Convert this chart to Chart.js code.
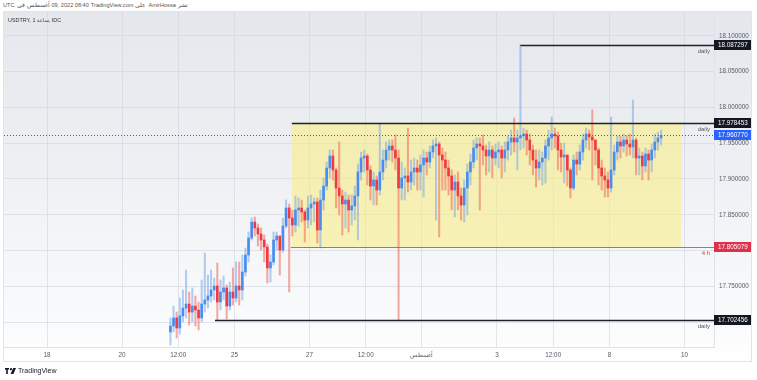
<!DOCTYPE html>
<html><head><meta charset="utf-8">
<script src="https://cdn.jsdelivr.net/npm/chart.js@4/dist/chart.umd.min.js"></script>
<style>
html,body{margin:0;padding:0;background:#fff;width:757px;height:380px;overflow:hidden;font-family:"Liberation Sans","Noto Sans",sans-serif;}
#hdr{position:absolute;left:3px;top:1px;font-size:5.6px;color:#555;white-space:nowrap;line-height:9px;}
#hdr span{display:inline-block;margin-right:2px}
#pane{position:absolute;left:4px;top:12px;width:748px;height:350px;background:linear-gradient(to bottom,#e4e7ec 0%,#eef0f3 45%,#fafbfc 90%,#ffffff 100%);}
#frame{position:absolute;left:3px;top:11px;width:749px;height:351px;border:1px solid #e0e3eb;box-sizing:border-box;pointer-events:none}
#c{position:absolute;left:0;top:0}
#sym{position:absolute;left:8px;top:16px;font-size:5.4px;color:#333;white-space:nowrap;line-height:9px}
#sym span{display:inline-block}
#foot{position:absolute;left:5px;top:366px;font-size:7px;color:#131722;white-space:nowrap;line-height:10px}
#foot svg{vertical-align:middle;margin-right:2px}
</style></head>
<body>
<div id="hdr"><span>UTC</span><span>في</span><span>أغسطس</span><span>09, 2022 08:40</span><span>TradingView.com</span><span>على</span><span>AmirHossa</span><span>نشر</span></div>
<div id="pane"><canvas id="c" width="748" height="350"></canvas></div>
<div id="frame"></div>
<div id="sym"><span>USDTRY,&nbsp;</span><span>1 ساعة</span><span>,&nbsp;IDC</span></div>
<div id="foot"><svg width="11" height="6" viewBox="0 0 11 6"><rect x="0" y="0" width="4" height="1.6" fill="#131722"/><rect x="1.2" y="0" width="1.6" height="6" fill="#131722"/><circle cx="6" cy="1.2" r="1.1" fill="#131722"/><polygon points="8.2,0 11,0 8.4,6 5.6,6" fill="#131722"/></svg>TradingView</div>
<script>
// ---- data: USDTRY 2-hour candles, 21 Jul 2022 07:00 -> 9 Aug 2022 ----
const startDay = 3 + 7/24;      // trading-day index of first candle (Mon 18 Jul = 0, weekends removed)
const stepDay = 2/24;           // 2 hours per candle

const opens = [
17.6863,17.6947,17.7059,17.6919,17.7087,17.7198,17.7254,17.7142,17.7226,17.7170,
17.7059,17.7254,17.7310,17.7366,17.7450,17.7506,17.7282,17.7422,17.7478,17.7226,
17.7422,17.7338,17.7506,17.7450,17.7701,17.7939,17.8176,17.8399,17.8316,17.8232,
17.8148,17.8050,17.7757,17.7841,17.8148,17.8204,17.8008,17.8344,17.8595,17.8455,
17.8358,17.8567,17.8595,17.8539,17.8427,17.8595,17.8651,17.8679,17.8288,17.8707,
17.8902,17.9154,17.9321,17.9126,17.8874,17.8763,17.8651,17.8707,17.8567,17.8623,
17.8763,17.9098,17.9293,17.9321,17.9126,17.8902,17.8986,17.8846,17.9098,17.9265,
17.9405,17.9461,17.9405,17.9293,17.8874,17.9014,17.9042,17.8958,17.9098,17.9154,
17.9098,17.9196,17.9293,17.9237,17.9377,17.9461,17.9489,17.9335,17.9265,17.9154,
17.9042,17.8846,17.8958,17.8763,17.8637,17.8874,17.9098,17.9237,17.9433,17.9489,
17.9461,17.9405,17.9321,17.9405,17.9293,17.9377,17.9405,17.9293,17.9405,17.9517,
17.9573,17.9517,17.9573,17.9601,17.9628,17.9545,17.9405,17.9265,17.9154,17.9237,
17.9293,17.9461,17.9573,17.9628,17.9601,17.9405,17.9307,17.9335,17.9126,17.8874,
17.9265,17.9209,17.9377,17.9545,17.9628,17.9587,17.9545,17.9405,17.9154,17.9042,
17.8986,17.8874,17.9126,17.9377,17.9517,17.9461,17.9545,17.9489,17.9447,17.9545,
17.9293,17.9321,17.9182,17.9349,17.9265,17.9405,17.9517,17.9573];
const highs = [
17.7059,17.7226,17.7142,17.7338,17.7450,17.7729,17.7422,17.7478,17.7366,17.7282,
17.7589,17.7966,17.7659,17.7729,17.7617,17.7827,17.7589,17.7645,17.7520,17.7561,
17.7757,17.7841,17.7841,17.7939,17.8036,17.8260,17.8455,17.8469,17.8372,17.8316,
17.8218,17.8092,17.7939,17.8260,17.8260,17.8204,17.8455,17.8707,17.8651,17.8567,
17.8763,17.8735,17.8707,17.8567,17.8763,17.8777,17.8735,17.8735,17.8846,17.9014,
17.9237,17.9405,17.9405,17.9154,17.9517,17.8846,17.8818,17.8777,17.8777,17.8902,
17.9209,17.9377,17.9405,17.9349,17.9182,17.9098,17.9042,17.9768,17.9405,17.9517,
17.9545,17.9545,17.9615,17.9405,17.9237,17.9154,17.9712,17.9265,17.9293,17.9265,
17.9335,17.9405,17.9377,17.9461,17.9545,17.9573,17.9517,17.9433,17.9377,17.9265,
17.9126,17.9056,17.9098,17.8874,17.8986,17.9209,17.9349,17.9545,17.9573,17.9573,
17.9615,17.9475,17.9517,17.9461,17.9489,17.9517,17.9461,17.9517,17.9601,17.9684,
17.9852,17.9684,18.0873,17.9712,17.9684,17.9628,17.9475,17.9405,17.9405,17.9377,
17.9545,17.9684,17.9866,17.9712,17.9656,17.9503,17.9503,17.9335,17.9154,17.9335,
17.9377,17.9475,17.9628,17.9712,17.9684,17.9964,17.9545,17.9433,17.9265,17.9154,
17.9098,17.9866,17.9475,17.9601,17.9601,17.9628,17.9601,17.9628,18.0103,17.9573,
17.9433,17.9377,17.9433,17.9405,17.9489,17.9628,17.9656,17.9684];
const lows = [
17.6682,17.6863,17.6779,17.6835,17.7003,17.7059,17.6961,17.7003,17.6947,17.6891,
17.7003,17.7142,17.7198,17.7282,17.7310,17.7025,17.7170,17.7310,17.7045,17.7170,
17.7240,17.7282,17.7240,17.7310,17.7645,17.7841,17.8148,17.8204,17.8064,17.8008,
17.7841,17.7547,17.7561,17.7799,17.8008,17.7659,17.7980,17.8316,17.7422,17.8204,
17.8260,17.8344,17.8399,17.8120,17.8316,17.8358,17.8399,17.8106,17.8036,17.8567,
17.8846,17.9014,17.8986,17.8595,17.8497,17.8218,17.8316,17.8260,17.8358,17.8427,
17.8148,17.8986,17.9098,17.8916,17.8707,17.8637,17.8637,17.8777,17.8986,17.9154,
17.9265,17.9237,17.9126,17.7031,17.8707,17.8707,17.8818,17.8846,17.8916,17.8846,
17.8846,17.8749,17.9056,17.9154,17.9293,17.8427,17.8190,17.8846,17.8846,17.8777,
17.8567,17.8469,17.8567,17.8427,17.8399,17.8497,17.8916,17.9154,17.9265,17.8567,
17.9196,17.9056,17.9098,17.9014,17.9196,17.9154,17.9014,17.9098,17.9265,17.9335,
17.9377,17.9126,17.9405,17.9433,17.9335,17.9196,17.9056,17.8888,17.8986,17.8916,
17.8944,17.9265,17.9405,17.9433,17.9126,17.9098,17.8944,17.8902,17.8735,17.8846,
17.9056,17.9126,17.9265,17.9433,17.9405,17.8986,17.9196,17.8916,17.8846,17.8749,
17.8749,17.8818,17.9056,17.9265,17.9293,17.9377,17.9321,17.9335,17.9293,17.9056,
17.9056,17.8986,17.9098,17.8986,17.9098,17.9293,17.9405,17.9475];
const closes = [
17.6947,17.7059,17.6919,17.7087,17.7198,17.7254,17.7142,17.7226,17.7170,17.7059,
17.7254,17.7310,17.7366,17.7450,17.7506,17.7282,17.7422,17.7478,17.7226,17.7422,
17.7338,17.7506,17.7450,17.7701,17.7939,17.8176,17.8399,17.8316,17.8232,17.8148,
17.8050,17.7757,17.7841,17.8148,17.8204,17.8008,17.8344,17.8595,17.8455,17.8358,
17.8567,17.8595,17.8539,17.8427,17.8595,17.8651,17.8679,17.8288,17.8707,17.8902,
17.9154,17.9321,17.9126,17.8874,17.8763,17.8651,17.8707,17.8567,17.8623,17.8763,
17.9098,17.9293,17.9321,17.9126,17.8902,17.8986,17.8846,17.9098,17.9265,17.9405,
17.9461,17.9405,17.9293,17.8874,17.9014,17.9042,17.8958,17.9098,17.9154,17.9098,
17.9196,17.9293,17.9237,17.9377,17.9461,17.9489,17.9335,17.9265,17.9154,17.9042,
17.8846,17.8958,17.8763,17.8637,17.8874,17.9098,17.9237,17.9433,17.9489,17.9461,
17.9405,17.9321,17.9405,17.9293,17.9377,17.9405,17.9293,17.9405,17.9517,17.9573,
17.9517,17.9573,17.9601,17.9628,17.9545,17.9405,17.9265,17.9154,17.9237,17.9293,
17.9461,17.9573,17.9628,17.9601,17.9405,17.9307,17.9335,17.9126,17.8874,17.9265,
17.9209,17.9377,17.9545,17.9628,17.9587,17.9545,17.9405,17.9154,17.9042,17.8986,
17.8874,17.9126,17.9377,17.9517,17.9461,17.9545,17.9489,17.9447,17.9545,17.9293,
17.9321,17.9182,17.9349,17.9265,17.9405,17.9517,17.9573,17.96077];

// x-axis ticks (trading-day index) and labels
const xTickValues = [0, 2, 3.5, 5, 7, 8.5, 10, 12, 13.5, 15, 17];
const xTickLabels = ['18', '20', '12:00', '25', '27', '12:00', 'أغسطس', '3', '12:00', '8', '10'];
const yTickValues = [17.70, 17.75, 17.80, 17.85, 17.90, 17.95, 18.00, 18.05, 18.10];

// drawn levels
const levelValues = [18.087297, 17.978453, 17.805079, 17.702456];
const levelStarts = [12.625, 6.53, 6.50, 4.48];
const levelNames = ['daily', 'daily', '4 h', 'daily'];
const levelKinds = ['black', 'black', 'red', 'black'];
const zoneTop = 17.978453, zoneBottom = 17.805079, zoneStart = 6.53, zoneEnd = 16.907;
const lastPrice = 17.960770;

const X_MIN = -1.14667, X_MAX = 17.78667;
const Y_MIN = 17.66536, Y_MAX = 18.13324;

const UP = '#4a8cf0', DN = '#ef3a44';
const UPW = 'rgba(110,160,230,0.5)', DNW = 'rgba(240,100,90,0.55)';
const isUp = i => closes[i] >= opens[i];
const times = closes.map((_, i) => startDay + i * stepDay);

Chart.defaults.font.family = '"Liberation Sans","Noto Sans",sans-serif';

const overlay = {
  id: 'overlay',
  beforeDatasetsDraw(chart) {
    const {ctx, chartArea: a, scales: {x, y}} = chart;
    ctx.save();
    ctx.beginPath(); ctx.rect(a.left, a.top, a.width, a.height); ctx.clip();
    const x0 = x.getPixelForValue(zoneStart), x1 = x.getPixelForValue(zoneEnd);
    const y0 = y.getPixelForValue(zoneTop), y1 = y.getPixelForValue(zoneBottom);
    ctx.fillStyle = 'rgba(252,238,120,0.52)';
    ctx.fillRect(x0, y0, x1 - x0, y1 - y0);
    ctx.restore();
  },
  afterDatasetsDraw(chart) {
    const {ctx, chartArea: a, scales: {x, y}} = chart;
    ctx.save();
    ctx.beginPath(); ctx.rect(a.left, a.top, a.width, a.height); ctx.clip();
    const yp = Math.round(y.getPixelForValue(lastPrice)) + 0.5;
    ctx.setLineDash([1, 2]); ctx.strokeStyle = '#2962ff'; ctx.lineWidth = 1;
    ctx.beginPath(); ctx.moveTo(a.left, yp); ctx.lineTo(a.right, yp); ctx.stroke();
    ctx.setLineDash([]);
    levelValues.forEach((v, i) => {
      const yy = Math.round(y.getPixelForValue(v));
      const xs = x.getPixelForValue(levelStarts[i]);
      if (levelKinds[i] === 'red') { ctx.strokeStyle = 'rgba(232,60,60,0.85)'; ctx.lineWidth = 1; }
      else { ctx.strokeStyle = '#1e222d'; ctx.lineWidth = 1.5; }
      ctx.beginPath(); ctx.moveTo(xs, yy + 0.5); ctx.lineTo(a.right, yy + 0.5); ctx.stroke();
      ctx.font = '6px "Liberation Sans","Noto Sans",sans-serif';
      ctx.fillStyle = levelKinds[i] === 'red' ? '#e53935' : '#555a66';
      ctx.textAlign = 'right'; ctx.textBaseline = 'middle';
      ctx.fillText(levelNames[i], a.right - 4, yy + 6);
    });
    ctx.restore();
  },
  afterDraw(chart) {
    const {ctx, chartArea: a, scales: {y}} = chart;
    const boxes = [
      [levelValues[0], '#131722'], [levelValues[1], '#131722'], [lastPrice, '#2962ff'],
      [levelValues[2], '#e0314b'], [levelValues[3], '#131722']];
    ctx.save();
    ctx.font = '6.3px "Liberation Sans","Noto Sans",sans-serif';
    ctx.textBaseline = 'middle'; ctx.textAlign = 'left';
    boxes.forEach(([v, col]) => {
      const yy = Math.round(y.getPixelForValue(v));
      ctx.fillStyle = col;
      ctx.fillRect(a.right, yy - 5, 37, 10);
      ctx.fillStyle = '#fff';
      ctx.fillText(v.toFixed(6), a.right + 4, yy + 0.5);
    });
    ctx.restore();
  }
};

new Chart(document.getElementById('c'), {
  type: 'bar',
  data: {
    datasets: [
      {
        label: 'body',
        data: times.map((t, i) => ({x: t, y: [opens[i], closes[i]]})),
        barThickness: 2, grouped: false, minBarLength: 1, order: 0,
        backgroundColor: c => isUp(c.dataIndex) ? UP : DN
      },
      {
        label: 'wick',
        data: times.map((t, i) => ({x: t, y: [lows[i], highs[i]]})),
        barThickness: 1.4, grouped: false, order: 1,
        backgroundColor: c => isUp(c.dataIndex) ? UPW : DNW
      }
    ]
  },
  options: {
    responsive: false, animation: false, events: [],
    layout: {padding: 0, autoPadding: false},
    plugins: {legend: {display: false}, tooltip: {enabled: false}},
    scales: {
      x: {
        type: 'linear', min: X_MIN, max: X_MAX, offset: false,
        grid: {offset: false, color: 'rgba(205,210,220,0.55)', drawTicks: false},
        border: {display: true, color: '#dfe2e8'},
        afterBuildTicks: s => { s.ticks = xTickValues.map(v => ({value: v})); },
        afterFit: s => { s.height = 15; s.paddingLeft = 0; s.paddingRight = 0; s.paddingTop = 0; s.paddingBottom = 0; },
        ticks: {
          autoSkip: false, maxRotation: 0, padding: 4, color: '#555a66',
          font: {size: 6.3},
          callback: (v, i) => xTickLabels[i]
        }
      },
      y: {
        type: 'linear', position: 'right', min: Y_MIN, max: Y_MAX,
        grid: {color: 'rgba(205,210,220,0.55)', drawTicks: false},
        border: {display: true, color: '#dfe2e8'},
        afterBuildTicks: s => { s.ticks = yTickValues.map(v => ({value: v})); },
        afterFit: s => { s.width = 38; s.paddingTop = 0; s.paddingBottom = 0; s.paddingLeft = 0; s.paddingRight = 0; },
        ticks: {
          padding: 5, color: '#555a66', font: {size: 6.3},
          callback: v => Number(v).toFixed(6)
        }
      }
    }
  },
  plugins: [overlay]
});
</script>
</body></html>
